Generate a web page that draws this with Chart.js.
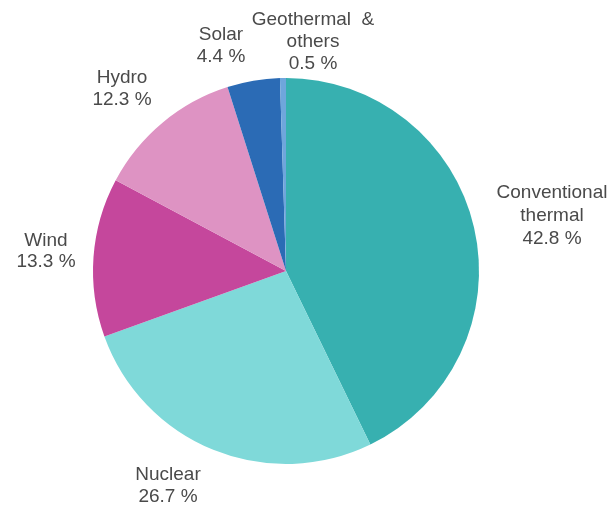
<!DOCTYPE html>
<html>
<head>
<meta charset="utf-8">
<script src="https://cdn.jsdelivr.net/npm/chart.js@4.4.1/dist/chart.umd.min.js"></script>
<style>
  html, body { margin: 0; padding: 0; background: #ffffff; }
  #wrap { width: 610px; height: 508px; }
</style>
</head>
<body>
<div id="wrap"><canvas id="pieChart" width="610" height="508"></canvas></div>
<script>
// date (procente)
const categories = ['Conventional thermal', 'Nuclear', 'Wind', 'Hydro', 'Solar', 'Geothermal & others'];
const shares = [42.8, 26.7, 13.3, 12.3, 4.4, 0.5];
const labelLines = [
    ['Conventional', 'thermal'],
    ['Nuclear'],
    ['Wind'],
    ['Hydro'],
    ['Solar'],
    ['Geothermal  &', 'others']
];
const sliceColors = ['#37b0b0', '#7fd9d9', '#c5479c', '#de93c3', '#2b6bb5', '#6fa6dc'];

// pozitia etichetelor fata de centrul graficului
const labelOffsets = [
    [266, -78],
    [-118, 204],
    [-240, -30],
    [-164, -193],
    [-65, -236],
    [27, -251]
];
const lineGap = [23, 22, 21, 22, 22, 22];

const pieLabels = {
    id: 'pieLabels',
    afterDraw(chart) {
        const ctx = chart.ctx;
        const arcs = chart.getDatasetMeta(0).data;
        ctx.save();
        ctx.font = '19px "Liberation Sans", Arial, sans-serif';
        ctx.fillStyle = '#4a4a4a';
        ctx.textAlign = 'center';
        ctx.textBaseline = 'middle';
        arcs.forEach(function(arc, i) {
            const lines = labelLines[i].concat([shares[i].toFixed(1) + ' %']);
            const x = arc.x + labelOffsets[i][0];
            let y = arc.y + labelOffsets[i][1];
            lines.forEach(function(t) {
                ctx.fillText(t, x, y);
                y += lineGap[i];
            });
        });
        ctx.restore();
    }
};

const ctx = document.getElementById('pieChart').getContext('2d');
new Chart(ctx, {
    type: 'pie',
    data: {
        labels: categories,
        datasets: [{
            data: shares,
            backgroundColor: sliceColors,
            borderWidth: 0
        }]
    },
    options: {
        responsive: false,
        animation: false,
        layout: {
            padding: { left: 93, right: 131, top: 78, bottom: 44 }
        },
        plugins: {
            legend: { display: false },
            tooltip: { enabled: false }
        }
    },
    plugins: [pieLabels]
});
</script>
</body>
</html>
